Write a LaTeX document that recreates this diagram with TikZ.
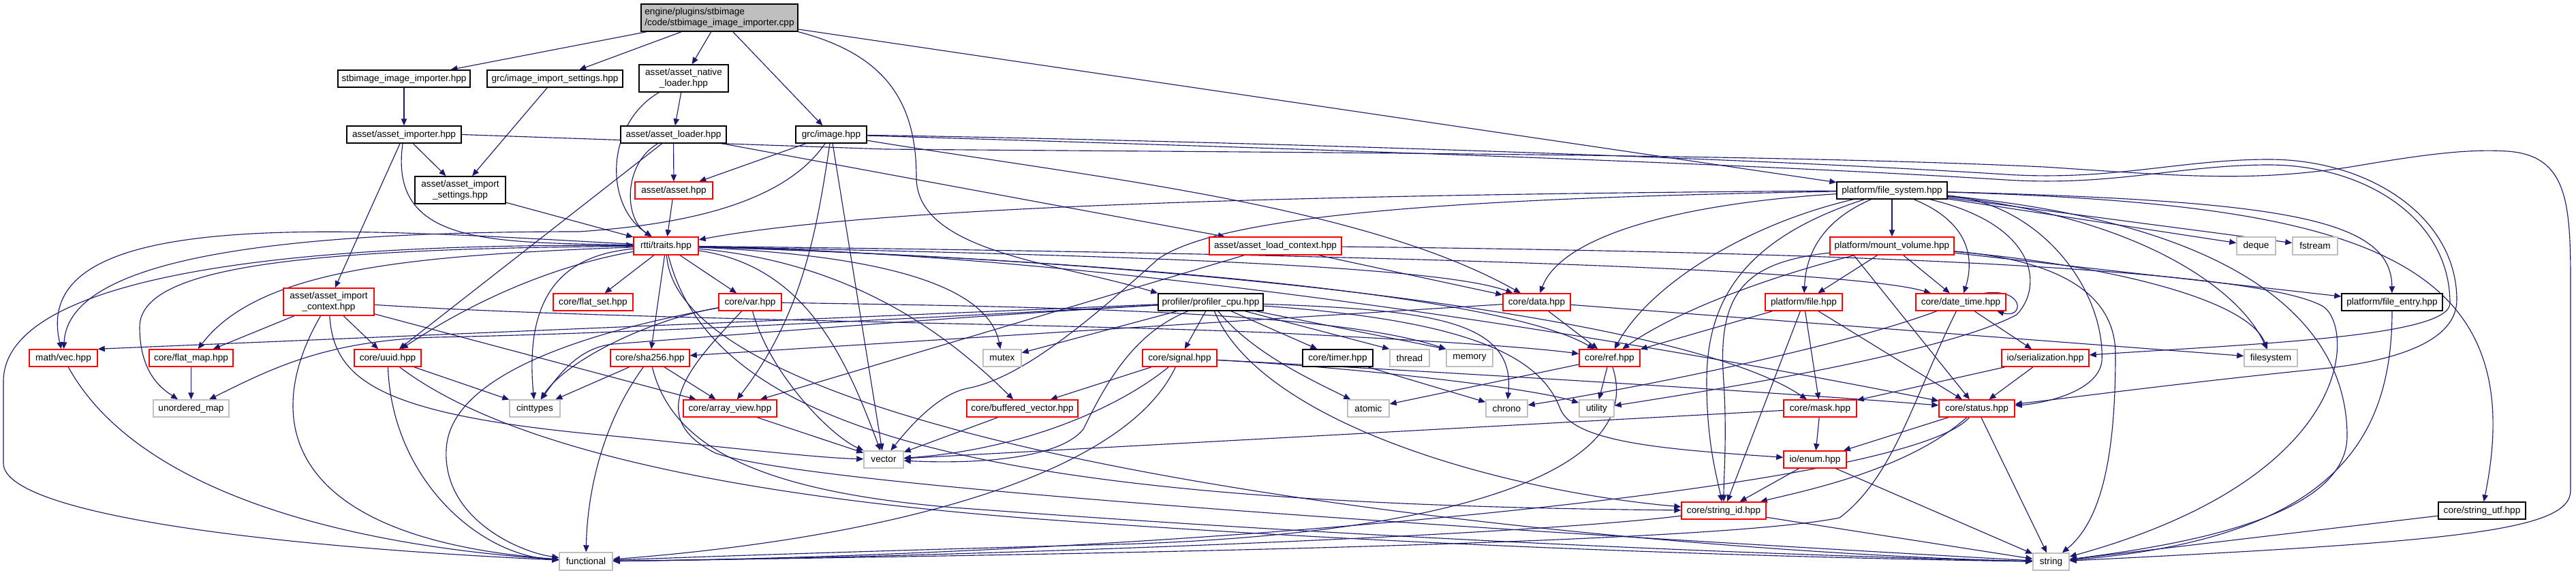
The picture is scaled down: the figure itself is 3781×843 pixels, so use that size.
\documentclass[tikz,border=0pt]{standalone}
\usepackage{fontspec}
\setmainfont{Liberation Sans}
\usetikzlibrary{arrows.meta}
\definecolor{edgec}{HTML}{191970}
\definecolor{grayb}{HTML}{BFBFBF}
\definecolor{redb}{HTML}{FF0000}
\newcommand\dxfont{\fontsize{10.2}{11.5}\selectfont}
\pgfdeclarelayer{bg}
\pgfsetlayers{bg,main}
\tikzset{
 nbox/.style={rectangle, inner sep=0pt, line width=1.1pt, font=\dxfont, align=center, fill=white, text=black},
 bb/.style={nbox, draw=black},
 rb/.style={nbox, draw=redb},
 gb/.style={nbox, draw=grayb},
 wh/.style 2 args={minimum width=#1*0.75pt, minimum height=#2*0.75pt},
 edg/.style={draw=edgec, line width=0.85pt, -{Triangle[length=7.5pt,width=6.3pt]}},
}
\begin{document}
\begin{tikzpicture}[x=0.75pt,y=-0.75pt]
\useasboundingbox (0,0) rectangle (3781,843);
% ---------------- nodes
\node[bb, fill=grayb, wh={230}{40}, align=left] (root) at (1056,26) {engine/plugins/stbimage\\/code/stbimage\_image\_importer.cpp};
\node[bb, wh={194}{25}] (sii) at (593,115.5) {stbimage\_image\_importer.hpp};
\node[bb, wh={199}{25}] (gis) at (814.5,115.5) {grc/image\_import\_settings.hpp};
\node[bb, wh={131}{40}] (anl) at (1003.5,115) {asset/asset\_native\\\_loader.hpp};
\node[bb, wh={168}{25}] (aim) at (593,197.5) {asset/asset\_importer.hpp};
\node[bb, wh={155}{25}] (ald) at (988.5,197.5) {asset/asset\_loader.hpp};
\node[bb, wh={104}{25}] (gim) at (1220,197.5) {grc/image.hpp};
\node[bb, wh={133}{40}] (ais) at (675.5,279) {asset/asset\_import\\\_settings.hpp};
\node[rb, wh={114}{25}] (ast) at (989,279.5) {asset/asset.hpp};
\node[rb, wh={95}{26}] (trt) at (977.5,361) {rtti/traits.hpp};
\node[rb, wh={194}{26}] (alc) at (1872,361) {asset/asset\_load\_context.hpp};
\node[bb, wh={162}{25}] (fsy) at (2777,279.5) {platform/file\_system.hpp};
\node[rb, wh={182}{26}] (mvl) at (2777,361) {platform/mount\_volume.hpp};
\node[gb, wh={57}{26}] (deq) at (3311.5,361) {deque};
\node[gb, wh={66}{26}] (fst) at (3398,361) {fstream};
\node[rb, wh={133}{40}] (aic) at (482.5,443) {asset/asset\_import\\\_context.hpp};
\node[rb, wh={117}{25}] (fset) at (870.5,443.5) {core/flat\_set.hpp};
\node[rb, wh={92}{25}] (var) at (1101,443.5) {core/var.hpp};
\node[bb, wh={154}{25}] (pcpu) at (1777,443.5) {profiler/profiler\_cpu.hpp};
\node[rb, wh={99}{25}] (data) at (2255.5,443.5) {core/data.hpp};
\node[rb, wh={113}{25}] (pfile) at (2647.5,443.5) {platform/file.hpp};
\node[rb, wh={132}{25}] (dt) at (2878,443.5) {core/date\_time.hpp};
\node[bb, wh={148}{25}] (fent) at (3511,443.5) {platform/file\_entry.hpp};
\node[rb, wh={100}{25}] (vec) at (93,525.5) {math/vec.hpp};
\node[rb, wh={123}{25}] (fmap) at (280.5,525.5) {core/flat\_map.hpp};
\node[rb, wh={98}{25}] (uuid) at (569,525.5) {core/uuid.hpp};
\node[rb, wh={116}{25}] (sha) at (954,525.5) {core/sha256.hpp};
\node[gb, wh={56}{25}] (mutex) at (1471,525.5) {mutex};
\node[rb, wh={109}{25}] (sig) at (1731.5,525.5) {core/signal.hpp};
\node[bb, wh={103}{25}] (timer) at (1963.5,525.5) {core/timer.hpp};
\node[gb, wh={58}{25}] (thread) at (2069,525.5) {thread};
\node[gb, wh={68}{25}] (memory) at (2157,525.5) {memory};
\node[rb, wh={89}{25}] (ref) at (2362.5,525.5) {core/ref.hpp};
\node[rb, wh={128}{25}] (ser) at (3002,525.5) {io/serialization.hpp};
\node[gb, wh={78}{25}] (fsys) at (3333,525.5) {filesystem};
\node[gb, wh={111}{25}] (umap) at (280.5,599.5) {unordered\_map};
\node[gb, wh={74}{25}] (cint) at (785,599.5) {cinttypes};
\node[rb, wh={137}{25}] (av) at (1071.5,599.5) {core/array\_view.hpp};
\node[rb, wh={163}{25}] (bvec) at (1500.5,599.5) {core/buffered\_vector.hpp};
\node[gb, wh={61}{25}] (atomic) at (2008.5,599.5) {atomic};
\node[gb, wh={61}{25}] (chrono) at (2211.5,599.5) {chrono};
\node[gb, wh={51}{25}] (utility) at (2343.5,599.5) {utility};
\node[rb, wh={107}{25}] (mask) at (2671.5,599.5) {core/mask.hpp};
\node[rb, wh={111}{25}] (status) at (2901.5,599.5) {core/status.hpp};
\node[gb, wh={58}{25}] (vector) at (1297,674.5) {vector};
\node[rb, wh={92}{25}] (enum) at (2664,674.5) {io/enum.hpp};
\node[rb, wh={124}{25}] (sid) at (2530,749.5) {core/string\_id.hpp};
\node[bb, wh={128}{25}] (sutf) at (3643,749.5) {core/string\_utf.hpp};
\node[gb, wh={78}{26}] (func) at (860,824) {functional};
\node[gb, wh={53}{25}] (string) at (3010.5,824.5) {string};
% ---------------- edges
\begin{pgfonlayer}{bg}
\fill[white] (0,0) rectangle (3781,843);
% root
\draw[edg] (root) -- (sii);
\draw[edg] (root) -- (gis);
\draw[edg] (root) -- (anl);
\draw[edg] (root) -- (gim);
\draw[edg] (root) -- (fsy);
\draw[edg] (root.south east) .. controls (1300,80) and (1345,150) .. (1345,260) .. controls (1345,370) and (1550,385) .. (pcpu.north west);
\draw[edg] (sii) -- (aim);
\draw[edg] (gis) -- (ais);
\draw[edg] (anl) -- (ald);
\draw[edg] (anl) .. controls (890,180) and (885,300) .. (trt);
% asset importer
\draw[edg] (aim) -- (ais);
\draw[edg] (aim) .. controls (570,360) and (720,355) .. (trt);
\draw[edg] (aim) -- (aic);
\draw[edg] (aim.east) -- (1300,219) .. controls (1900,224) and (2600,226) .. (3000,245) .. controls (3200,258) and (3300,268) .. (3450,245) .. controls (3550,228) and (3620,218) .. (3680,222) .. controls (3770,228) and (3773,300) .. (3773,420) -- (3773,720) .. controls (3773,780) and (3600,795) .. (string);
% asset loader
\draw[edg] (ald) -- (ast);
\draw[edg] (ald) .. controls (915,240) and (915,320) .. (trt);
\draw[edg] (ald) -- (uuid);
\draw[edg] (ald) -- (alc);
% grc image
\draw[edg] (gim) -- (ast);
\draw[edg] (gim) .. controls (1150,300) and (1000,330) .. (850,340) .. controls (400,340) and (100,380) .. (vec);
\draw[edg] (gim) .. controls (1200,330) and (1180,460) .. (av);
\draw[edg] (gim) -- (vector);
\draw[edg] (gim) .. controls (1600,260) and (2000,300) .. (data);
\draw[edg] (gim) .. controls (1700,205) and (2500,228) .. (2944,256) .. controls (3100,266) and (3200,234) .. (3330,234) .. controls (3480,234) and (3606,320) .. (3606,440) .. controls (3606,500) and (3520,528) .. (3420,540) .. controls (3200,562) and (3030,585) .. (status);
\draw[edg] (gim) .. controls (1700,212) and (2500,236) .. (2944,264) .. controls (3100,274) and (3200,242) .. (3330,242) .. controls (3470,242) and (3596,320) .. (3596,445) .. controls (3596,495) and (3300,505) .. (ser);
\draw[edg] (ais) -- (trt);
\draw[edg] (ast) -- (trt);
% asset load context
\draw[edg] (alc) -- (data);
\draw[edg] (alc) -- (av);
\draw[edg] (alc) .. controls (2500,368) and (3300,385) .. (3410,450) .. controls (3455,480) and (3462,700) .. (string);
% rtti traits
\draw[edg] (trt) .. controls (500,335) and (40,300) .. (vec);
\draw[edg] (trt) .. controls (600,375) and (380,395) .. (fmap);
\draw[edg] (trt) .. controls (450,365) and (205,390) .. (205,480) .. controls (205,550) and (240,572) .. (umap);
\draw[edg] (trt) .. controls (350,355) and (5,420) .. (5,560) -- (5,680) .. controls (5,750) and (350,800) .. (func);
\draw[edg] (trt) .. controls (840,385) and (720,425) .. (uuid);
\draw[edg] (trt) .. controls (820,375) and (770,440) .. (cint);
\draw[edg] (trt) -- (fset);
\draw[edg] (trt) -- (var);
\draw[edg] (trt) -- (sha);
\draw[edg] (trt) .. controls (1180,390) and (1240,520) .. (vector);
\draw[edg] (trt) .. controls (1300,375) and (1450,420) .. (mutex);
\draw[edg] (trt) .. controls (1250,385) and (1390,490) .. (bvec);
\draw[edg] (trt) .. controls (1500,372) and (2100,385) .. (data);
\draw[edg] (trt) .. controls (1600,380) and (2200,430) .. (ref);
\draw[edg] (trt) .. controls (1800,370) and (2700,390) .. (dt);
\draw[edg] (trt) .. controls (1800,385) and (2480,470) .. (mask);
\draw[edg] (trt) .. controls (1700,375) and (2500,520) .. (status);
\draw[edg] (trt) .. controls (1050,650) and (1500,740) .. (sid);
\draw[edg] (trt) .. controls (1000,680) and (2400,810) .. (string);
% profiler
\draw[edg] (pcpu) -- (vec.north east);
\draw[edg] (pcpu) .. controls (1300,470) and (900,490) .. (640,495) .. controls (480,500) and (400,540) .. (umap);
\draw[edg] (pcpu) .. controls (1400,465) and (1100,490) .. (900,505) .. controls (850,510) and (820,550) .. (cint);
\draw[edg] (pcpu) -- (mutex);
\draw[edg] (pcpu) -- (sig);
\draw[edg] (pcpu) -- (timer);
\draw[edg] (pcpu) -- (thread.north west);
\draw[edg] (pcpu) -- (memory.north west);
\draw[edg] (pcpu) .. controls (1840,520) and (1930,560) .. (atomic);
\draw[edg] (pcpu) .. controls (2100,455) and (2225,470) .. (chrono);
\draw[edg] (pcpu) .. controls (1660,490) and (1620,570) .. (1590,630) .. controls (1550,680) and (1400,680) .. (vector);
\draw[edg] (pcpu) .. controls (1850,620) and (2200,720) .. (sid);
\draw[edg] (pcpu) .. controls (2150,470) and (2260,520) .. (2290,600) .. controls (2310,650) and (2450,660) .. (enum);
% var
\draw[edg] (var) .. controls (950,470) and (830,530) .. (cint);
\draw[edg] (var) .. controls (900,480) and (660,540) .. (655,660) .. controls (650,760) and (760,810) .. (func);
\draw[edg] (var) .. controls (1130,550) and (1220,640) .. (vector);
\draw[edg] (var) .. controls (1500,450) and (1950,455) .. (memory.north west);
\draw[edg] (var) .. controls (1020,530) and (940,610) .. (1050,665) .. controls (1200,720) and (2400,790) .. (string);
% sha256
\draw[edg] (sha) -- (cint);
\draw[edg] (sha) -- (av);
\draw[edg] (sha) .. controls (885,620) and (862,720) .. (func);
\draw[edg] (sha) .. controls (985,650) and (1100,720) .. (1400,745) .. controls (2000,790) and (2600,815) .. (string);
% uuid
\draw[edg] (uuid) -- (cint);
\draw[edg] (uuid) .. controls (575,700) and (700,815) .. (func);
\draw[edg] (uuid) .. controls (720,640) and (1000,720) .. (1500,760) .. controls (2100,805) and (2700,820) .. (string);
% vec, flat_map
\draw[edg] (vec) .. controls (200,720) and (500,800) .. (func);
\draw[edg] (fmap) -- (umap);
% asset import context
\draw[edg] (aic) -- (fmap);
\draw[edg] (aic) -- (uuid);
\draw[edg] (aic) -- (av);
\draw[edg] (aic) .. controls (490,560) and (560,610) .. (900,640) .. controls (1100,660) and (1200,672) .. (vector);
\draw[edg] (aic) .. controls (380,620) and (420,790) .. (func);
\draw[edg] (aic) .. controls (900,470) and (1600,475) .. (1900,490) .. controls (2100,500) and (2250,510) .. (ref);
% signal
\draw[edg] (sig) -- (bvec);
\draw[edg] (sig) .. controls (1640,600) and (1500,660) .. (vector);
\draw[edg] (sig) .. controls (1650,700) and (1300,790) .. (func);
\draw[edg] (sig) .. controls (2000,540) and (2250,570) .. (utility);
\draw[edg] (sig) .. controls (2100,545) and (2600,575) .. (status);
\draw[edg] (bvec) -- (vector);
\draw[edg] (av) -- (vector);
\draw[edg] (timer) -- (chrono);
% ref
\draw[edg] (ref) -- (utility);
\draw[edg] (ref) -- (atomic);
\draw[edg] (ref) .. controls (2420,700) and (2100,790) .. (1600,800) .. controls (1300,808) and (1000,818) .. (func);
% data
\draw[edg] (data) -- (ref);
\draw[edg] (data) -- (sha);
\draw[edg] (data) -- (fsys);
% date_time
\draw[edg] (dt) -- (ser);
\draw[edg] (dt) .. controls (2700,510) and (2400,570) .. (chrono);
\draw[edg] (dt) .. controls (2810,580) and (2780,700) .. (2700,760) .. controls (2500,800) and (1500,815) .. (func);
\draw[edg] (dt.21) .. controls +(60,-8) and +(40,12) .. (dt.-14);
% serialization, mask, status, enum, string_id
\draw[edg] (ser) -- (mask);
\draw[edg] (ser) -- (status);
\draw[edg] (mask) -- (enum);
\draw[edg] (mask) -- (vector);
\draw[edg] (status) -- (enum);
\draw[edg] (status) .. controls (2800,690) and (2650,720) .. (sid);
\draw[edg] (status) -- (string);
\draw[edg] (status) .. controls (2800,720) and (1700,815) .. (func);
\draw[edg] (enum) -- (sid);
\draw[edg] (enum) -- (string);
\draw[edg] (sid) -- (string);
\draw[edg] (sid) .. controls (2200,790) and (1300,820) .. (func);
\draw[edg] (sutf) -- (string);
\draw[edg] (fent) .. controls (3511,650) and (3420,790) .. (string);
% platform/file
\draw[edg] (pfile) -- (mask);
\draw[edg] (pfile) -- (status);
\draw[edg] (pfile) -- (sid);
\draw[edg] (pfile) -- (ref);
% mount volume
\draw[edg] (mvl) -- (pfile);
\draw[edg] (mvl) -- (dt);
\draw[edg] (mvl) -- (fent);
\draw[edg] ([xshift=-42pt]mvl.south) -- (status);
\draw[edg] (mvl) .. controls (2620,400) and (2470,450) .. (ref);
\draw[edg] (mvl) .. controls (3000,380) and (3105,420) .. (3105,520) .. controls (3105,650) and (3090,760) .. (string);
\draw[edg] (mvl) .. controls (3100,390) and (3300,440) .. (fsys);
\draw[edg] (mvl) .. controls (2560,385) and (2520,430) .. (2530,560) .. controls (2535,640) and (2530,700) .. (sid);
% file system
\draw[edg] (fsy) -- (mvl);
\draw[edg] (fsy) .. controls (2660,330) and (2650,390) .. (pfile);
\draw[edg] (fsy) .. controls (2900,330) and (2895,390) .. (dt);
\draw[edg] (fsy) .. controls (2450,300) and (2290,350) .. (data);
\draw[edg] (fsy) .. controls (2560,330) and (2420,420) .. (ref);
\draw[edg] (fsy) .. controls (2560,350) and (2505,440) .. (2505,560) .. controls (2505,650) and (2520,700) .. (sid);
\draw[edg] (fsy) .. controls (3000,300) and (3090,430) .. (3085,530) .. controls (3080,575) and (3000,592) .. (status);
\draw[edg] (fsy) -- (deq);
\draw[edg] (fsy) -- (fst);
\draw[edg] (fsy) .. controls (3350,295) and (3510,320) .. (fent);
\draw[edg] (fsy) .. controls (3450,300) and (3720,370) .. (sutf);
\draw[edg] (fsy) .. controls (3300,330) and (3445,480) .. (3445,640) .. controls (3445,760) and (3200,800) .. (string);
\draw[edg] (fsy) .. controls (3150,320) and (3290,430) .. (fsys);
\draw[edg] (fsy) .. controls (2200,290) and (1800,310) .. (1700,380) .. controls (1600,470) and (1500,555) .. (1420,570) .. controls (1380,578) and (1340,620) .. (vector);
\draw[edg] (fsy) .. controls (2000,285) and (1300,300) .. (trt);
\draw[edg] (fsy) .. controls (2990,330) and (3000,420) .. (2960,462) .. controls (2850,520) and (2500,575) .. (utility);
\end{pgfonlayer}
\end{tikzpicture}
\end{document}
